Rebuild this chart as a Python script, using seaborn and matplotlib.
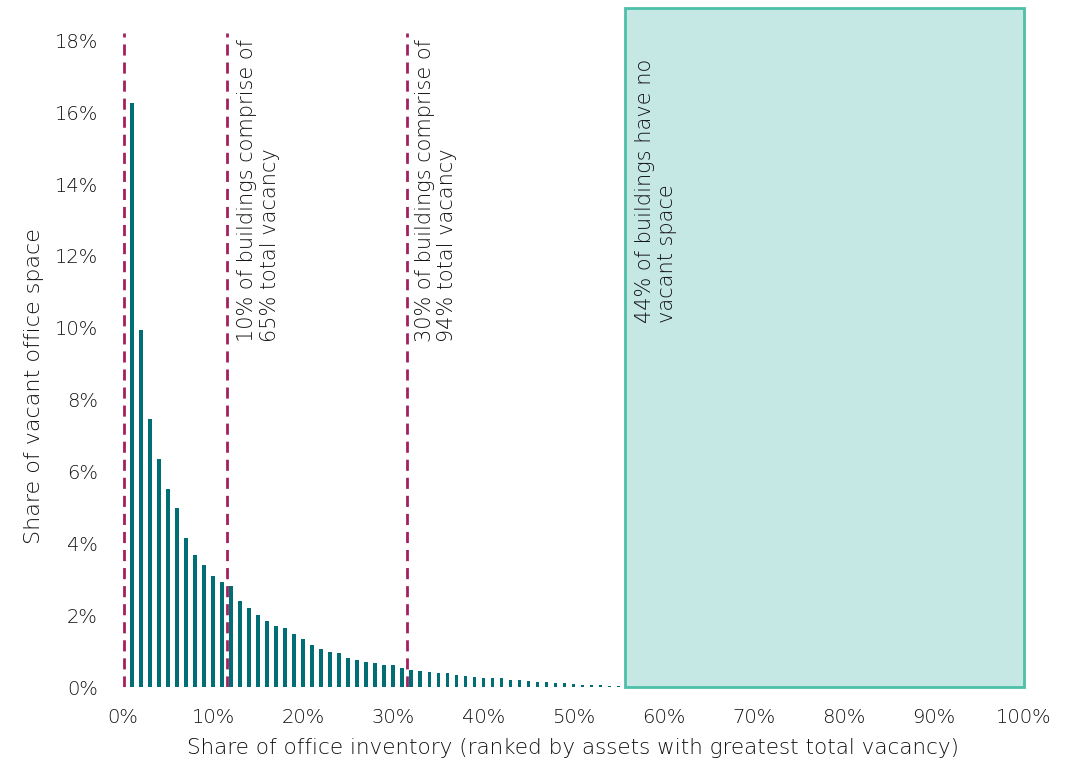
import numpy as np
import pandas as pd
import seaborn as sns
import matplotlib.pyplot as plt
from matplotlib.patches import Rectangle
from matplotlib.ticker import FuncFormatter

# share of inventory (ranked), % of buildings
rank_pct = list(range(1, 56))
# share of vacant office space, %
vacancy_share = [16.26, 9.94, 7.47, 6.34, 5.52, 4.98, 4.14, 3.68, 3.39, 3.10,
                 2.91, 2.80, 2.40, 2.19, 2.01, 1.85, 1.71, 1.63, 1.47, 1.33,
                 1.18, 1.07, 0.98, 0.94, 0.82, 0.76, 0.70, 0.66, 0.61, 0.60,
                 0.53, 0.48, 0.45, 0.42, 0.39, 0.38, 0.33, 0.31, 0.29, 0.25,
                 0.24, 0.24, 0.19, 0.19, 0.16, 0.15, 0.13, 0.12, 0.10, 0.08,
                 0.065, 0.055, 0.045, 0.03, 0.02]

# annotation markers
marker_x = [0.15, 11.5, 31.5]
note_x = [12.7, 32.4]
notes = ["10% of buildings comprise of\n65% total vacancy",
         "30% of buildings comprise of\n94% total vacancy"]
no_vacancy_start = 55.7
no_vacancy_note = "44% of buildings have no\nvacant space"

df = pd.DataFrame({'rank': rank_pct, 'share': vacancy_share})

sns.set_style('white')
plt.rcParams['font.family'] = ['DejaVu Sans']
plt.rcParams['font.weight'] = 'light'
plt.rcParams['axes.labelweight'] = 'light'
txt_col = '#111111'

fig = plt.figure(figsize=(10.74, 7.66), dpi=100)
ax = fig.add_axes([0.1145, 0.1031, 0.8389, 0.8865])

# box for buildings with no vacancy
ax.add_patch(Rectangle((no_vacancy_start, 0), 100 - no_vacancy_start, 18.9,
                       facecolor='#c5e8e5', edgecolor='#4dbfaa', linewidth=2,
                       clip_on=False, zorder=1))

sns.barplot(data=df, x='rank', y='share', native_scale=True, width=0.4,
            color='#006e74', saturation=1, linewidth=0, ax=ax, zorder=2)

for xv in marker_x:
    ax.plot([xv, xv], [0, 18.2], color='#a3205f', linewidth=2,
            dashes=(4, 2.5), zorder=3)

for xv, txt in zip(note_x, notes):
    ax.text(xv, 18.05, txt, rotation=90, ha='left', va='top', fontsize=15,
            color=txt_col, linespacing=1.15)
ax.text(56.8, 17.5, no_vacancy_note, rotation=90, ha='left', va='top',
        fontsize=15, color=txt_col, linespacing=1.15)

ax.set_xlim(0, 100)
ax.set_ylim(0, 18.9)
ax.set_xticks(range(0, 101, 10))
ax.set_yticks(range(0, 19, 2))
ax.xaxis.set_major_formatter(FuncFormatter(lambda v, p: f'{v:.0f}%'))
ax.yaxis.set_major_formatter(FuncFormatter(lambda v, p: f'{v:.0f}%'))
ax.tick_params(axis='both', length=0, labelsize=14, colors=txt_col)
ax.tick_params(axis='x', pad=15)
ax.tick_params(axis='y', pad=18)
ax.set_xlabel('Share of office inventory (ranked by assets with greatest total vacancy)',
              fontsize=15.5, color=txt_col, labelpad=8)
ax.set_ylabel('Share of vacant office space', fontsize=16, color=txt_col)
ax.yaxis.set_label_coords(-0.088, 0.443)
sns.despine(ax=ax, left=True, bottom=True)

fig.savefig('out.png', dpi=100)
